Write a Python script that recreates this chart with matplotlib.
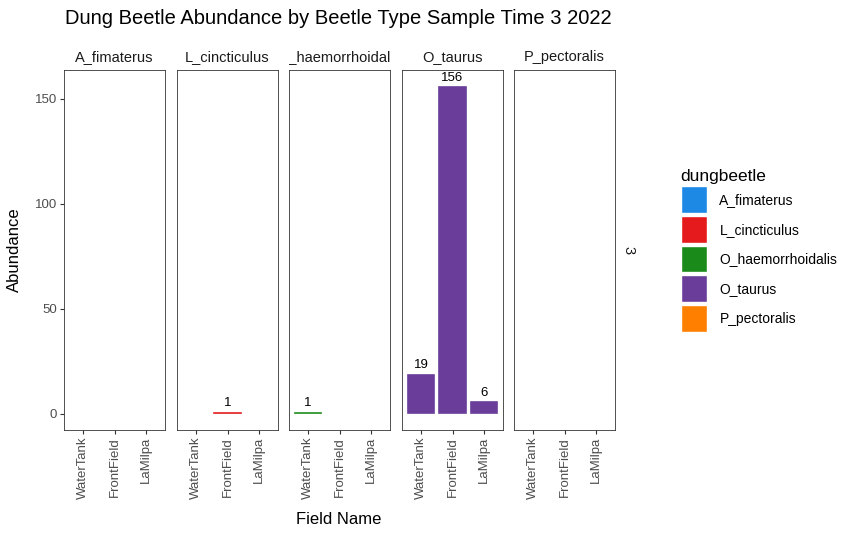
import matplotlib.pyplot as plt
from matplotlib.patches import Patch

plt.rcParams['font.family'] = ['Liberation Sans', 'DejaVu Sans']

# data
beetles = ['A_fimaterus', 'L_cincticulus', 'O_haemorrhoidalis', 'O_taurus', 'P_pectoralis']
fields = ['WaterTank', 'FrontField', 'LaMilpa']
abundance = {
    'A_fimaterus': [0, 0, 0],
    'L_cincticulus': [0, 1, 0],
    'O_haemorrhoidalis': [1, 0, 0],
    'O_taurus': [19, 156, 6],
    'P_pectoralis': [0, 0, 0],
}
colors = ['#1E88E5', '#E41A1C', '#1A8A1A', '#6A3D9A', '#FF7F00']

W, H = 867, 537
fig = plt.figure(figsize=(W / 100, H / 100), dpi=100)

lefts = [64, 177, 289, 402, 514]
pw = 101
top, bottom = 70, 430
ymax = max(max(v) for v in abundance.values())
pad = ymax * 0.05

for i, b in enumerate(beetles):
    ax = fig.add_axes([lefts[i] / W, 1 - bottom / H, pw / W, (bottom - top) / H])
    vals = abundance[b]
    x = range(1, len(fields) + 1)
    ax.bar(x, vals, width=0.9, color=colors[i], edgecolor='white', linewidth=0.25)
    for xi, v in zip(x, vals):
        if v > 0:
            ax.text(xi, v + 1.2, str(v), ha='center', va='bottom', fontsize=9.5, color='black')
    ax.set_xlim(0.4, 3.6)
    ax.set_ylim(-pad, ymax + pad)
    ax.set_xticks(list(x))
    ax.set_xticklabels(fields, rotation=90, fontsize=8.5, color='#4d4d4d')
    ax.set_yticks([0, 50, 100, 150])
    ax.tick_params(colors='#333333', length=3, width=0.8, labelcolor='#4d4d4d',
                   labelsize=9.5, pad=2)
    if i > 0:
        ax.tick_params(axis='y', left=False, labelleft=False)
    for s in ax.spines.values():
        s.set_color('#333333')
        s.set_linewidth(0.6)
    # strip label, clipped to panel width
    sax = fig.add_axes([lefts[i] / W, 1 - top / H, pw / W, 25 / H])
    sax.axis('off')
    sax.set_xlim(0, 1)
    sax.set_ylim(0, 1)
    sax.text(0.5, 0.5, b, ha='center', va='center', fontsize=10.5, color='#1a1a1a', clip_on=True)

fig.text(628 / W, 1 - 250 / H, '3', rotation=-90, ha='center', va='center', fontsize=10.5, color='#1a1a1a')

fig.text(65 / W, 1 - 18 / H, 'Dung Beetle Abundance by Beetle Type Sample Time 3 2022',
         ha='left', va='center', fontsize=14.5)
fig.text(339 / W, 1 - 519 / H, 'Field Name', ha='center', va='center', fontsize=12)
fig.text(14 / W, 1 - 250 / H, 'Abundance', rotation=90, ha='center', va='center', fontsize=12)

handles = [Patch(facecolor=c, edgecolor='white', label=b) for b, c in zip(beetles, colors)]
leg = fig.legend(handles=handles, title='dungbeetle', loc='upper left',
                 bbox_to_anchor=(668 / W, 1 - 156 / H), frameon=False,
                 fontsize=10, title_fontsize=12.5, handlelength=1.9, handleheight=2.6,
                 labelspacing=0.2, handletextpad=0.9, alignment='left')

fig.savefig('out.png', dpi=100)
